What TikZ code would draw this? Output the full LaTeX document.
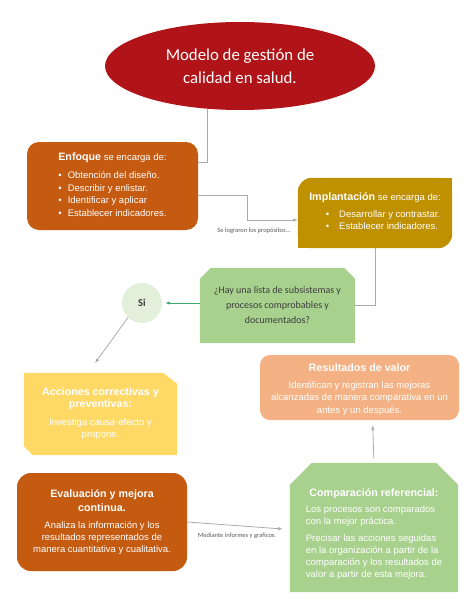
\documentclass[tikz,border=0pt]{standalone}
\usepackage{fontspec}
\setmainfont{Liberation Sans}
\newfontfamily\calfont{Carlito}
\usetikzlibrary{shapes.geometric,arrows.meta,calc,backgrounds}
\definecolor{mred}{RGB}{176,20,24}
\definecolor{orng}{RGB}{197,90,17}
\definecolor{gold}{RGB}{191,144,0}
\definecolor{yell}{RGB}{255,217,102}
\definecolor{peach}{RGB}{244,177,131}
\definecolor{lgreen}{RGB}{169,209,142}
\definecolor{sgreen}{RGB}{226,239,218}
\definecolor{garrow}{RGB}{60,170,110}
\definecolor{lgray}{RGB}{170,170,175}
\definecolor{qtext}{RGB}{60,60,60}
\definecolor{lbl}{RGB}{90,90,90}
\newcommand\boxtitle{\fontsize{10.7}{12}\selectfont\bfseries}
\begin{document}
\begin{tikzpicture}[x=1pt,y=-1pt,
  box/.style={rectangle, inner sep=0pt, text=white, align=center, font=\fontsize{9.5}{12}\selectfont},
  conn/.style={draw=lgray, line width=0.8pt},
  arr/.style={conn, -{Latex[length=4.5pt,width=3.5pt]}},
  garr/.style={draw=garrow, line width=0.9pt, -{Latex[length=4.5pt,width=3.5pt]}},
  lab/.style={font=\calfont\fontsize{6.5}{8}\selectfont, text=lbl, inner sep=0pt}]
\useasboundingbox (0,0) rectangle (474,613);

% Title ellipse
\node[ellipse, fill=mred, minimum width=270pt, minimum height=88pt, inner sep=0pt, text=white,
      font=\calfont\fontsize{16.8}{23}\selectfont, align=center] (mod) at (240,66)
      {Modelo de gestión de\\calidad en salud.};

% Enfoque
\node[box, fill=orng, rounded corners=12pt, minimum width=171pt, minimum height=88pt,
      font=\fontsize{9.5}{12.5}\selectfont] (enf) at (112.5,186)
  {{\boxtitle Enfoque} se encarga de:\\[6pt]
   \begin{tabular}[t]{@{}l@{}}
   \textbullet\hspace{6pt}Obtención del diseño.\\
   \textbullet\hspace{6pt}Describir y enlistar.\\
   \textbullet\hspace{6pt}Identificar y aplicar\\
   \textbullet\hspace{6pt}Establecer indicadores.
   \end{tabular}};

% Implantacion
\node[box, minimum width=154pt, minimum height=70pt] (imp) at (375,213)
  {{\boxtitle Implantación} se encarga de:\\[5pt]
   \hspace*{16pt}\begin{tabular}[t]{@{}l@{}}
   \textbullet\hspace{10pt}Desarrollar y contrastar.\\
   \textbullet\hspace{10pt}Establecer indicadores.
   \end{tabular}};

% Question
\node[rectangle, minimum width=155pt, minimum height=75pt, inner sep=0pt, align=center,
      font=\calfont\fontsize{10}{15}\selectfont, text=qtext] (q) at (277.5,305.5)
  {¿Hay una lista de subsistemas y\\procesos comprobables y\\documentados?};

% Si
\node[circle, fill=sgreen, minimum size=40pt, inner sep=0pt,
      font=\calfont\bfseries\fontsize{10.5}{12}\selectfont, text=qtext] (si) at (142,303) {Si};

% Acciones
\node[box, minimum width=153pt, minimum height=82pt] (acc) at (100.5,414)
  {{\boxtitle Acciones correctivas y}\\{\boxtitle preventivas:}\\[6pt]
   Investiga causa-efecto y\\propone.};

% Resultados
\node[box, fill=peach, rounded corners=10pt, minimum width=199pt, minimum height=65pt,
      font=\fontsize{9.5}{12.5}\selectfont] (res) at (359.5,387.5)
  {\rule{0pt}{12pt}{\boxtitle Resultados de valor}\\[4pt]
   Identifican y registran las mejoras\\alcanzadas de manera comparativa en un\\antes y un después.};

% Evaluacion
\node[box, fill=orng, rounded corners=14pt, minimum width=170pt, minimum height=98pt] (eva) at (102,522)
  {{\boxtitle Evaluación y mejora}\\[2pt]{\boxtitle continua.}\\[5pt]
   Analiza la información y los\\resultados representados de\\manera cuantitativa y cualitativa.};

% Comparacion
\node[box, minimum width=168pt, minimum height=129pt] (comp) at (374,527.5)
  {\rule{0pt}{22pt}{\boxtitle Comparación referencial:}\\[4pt]
   \begin{tabular}[t]{@{}l@{}}
   Los procesos son comparados\\
   con la mejor práctica.\\[5pt]
   Precisar las acciones seguidas\\
   en la organización a partir de la\\
   comparación y los resultados de\\
   valor a partir de esta mejora.
   \end{tabular}};

% Background shapes
\begin{scope}[on background layer]
  \fill[gold, rounded corners=14pt] (imp.north west) rectangle (imp.south east);
  \fill[gold] (imp.north) rectangle (imp.east);
  \fill[gold] (imp.west) rectangle (imp.south);
  \fill[lgreen] ([xshift=11pt]q.north west) -- ([xshift=-11pt]q.north east)
     -- ([yshift=-11pt]q.north east) -- (q.south east) -- (q.south west)
     -- ([yshift=-11pt]q.north west) -- cycle;
  \fill[yell] (acc.north west) -- ([xshift=-14pt]acc.north east)
     -- ([yshift=-11pt]acc.north east) -- (acc.south east)
     -- ([xshift=9pt]acc.south west) -- ([yshift=9pt]acc.south west) -- cycle;
  \fill[lgreen] ([xshift=22pt]comp.north west) -- ([xshift=-22pt]comp.north east)
     -- ([yshift=-22pt]comp.north east) -- (comp.south east) -- (comp.south west)
     -- ([yshift=-22pt]comp.north west) -- cycle;
\end{scope}

% Connectors
\draw[conn] (mod.233) |- ($(enf.north east)!0.23!(enf.south east)$);
\draw[arr] ($(enf.north east)!0.61!(enf.south east)$) -- ++(49,0)
   |- ($(imp.north west)!0.6!(imp.south west)$);
\node[lab] (l1) at (254,231) {Se lograron los propósitos...};
\draw[conn] (imp.south) |- (q.east);
\draw[garr, shorten >=3pt] (q.west |- si) -- (si.east);
\draw[arr, shorten >=12pt] (si.226) -- ([xshift=-12.5pt]acc.north);
\draw[arr, shorten >=7pt] (eva.east) -- ([yshift=-2pt]comp.west);
\node[lab] (l2) at (237,536) {Mediante informes y graficos.};
\draw[arr, shorten <=5pt, shorten >=5pt] (comp.north) -- ([xshift=13pt]res.south);
\end{tikzpicture}
\end{document}
